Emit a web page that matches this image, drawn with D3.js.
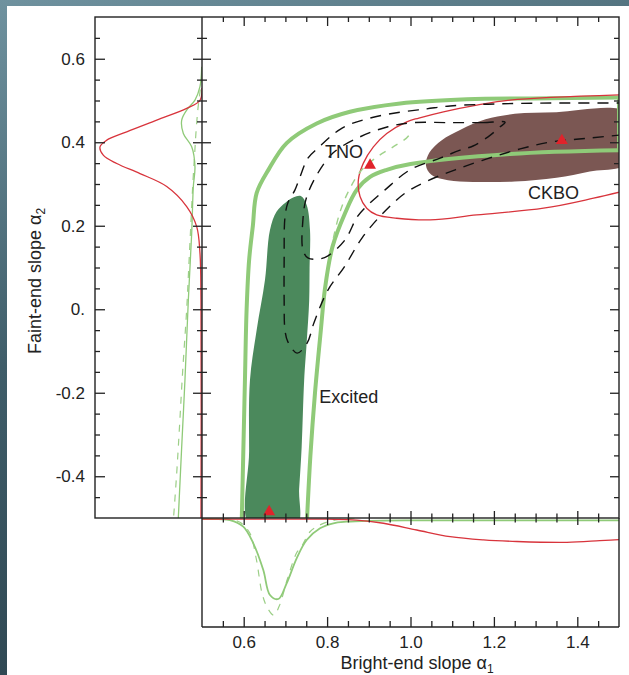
<!DOCTYPE html>
<html><head><meta charset="utf-8">
<script src="https://cdn.jsdelivr.net/npm/d3@7"></script>
<style>html,body{margin:0;padding:0;background:#fff;} svg{display:block;}</style>
</head><body>
<svg id="c" width="629" height="675"></svg>
<script>
// ---------------- DATA ----------------
const xMajor = [0.6, 0.8, 1.0, 1.2, 1.4];
const xTickLabels = ["0.6", "0.8", "1.0", "1.2", "1.4"];
const yMajor = [-0.4, -0.2, 0, 0.2, 0.4, 0.6];
const yTickLabels = ["-0.4", "-0.2", "0.", "0.2", "0.4", "0.6"];
const xMinor = [0.55,0.65,0.7,0.75,0.85,0.9,0.95,1.05,1.1,1.15,1.25,1.3,1.35,1.45];
const yMinor = [-0.45,-0.35,-0.3,-0.25,-0.15,-0.1,-0.05,0.05,0.1,0.15,0.25,0.3,0.35,0.45,0.5,0.55,0.65];

// filled 1-sigma regions [alpha1, alpha2]
const excitedRegion = [[0.615,-0.52],[0.613,-0.34],[0.615,-0.17],[0.631,-0.05],[0.651,0.07],[0.663,0.19],[0.679,0.234],[0.70,0.255],[0.72,0.268],[0.737,0.271],[0.751,0.25],[0.759,0.19],[0.758,0.1],[0.757,0.02],[0.751,-0.08],[0.745,-0.17],[0.739,-0.33],[0.733,-0.43],[0.727,-0.52]];
const ckboRegion = [[1.52,0.47],[1.35,0.472],[1.25,0.468],[1.18,0.455],[1.12,0.43],[1.075,0.405],[1.045,0.375],[1.037,0.345],[1.05,0.322],[1.09,0.309],[1.15,0.305],[1.25,0.306],[1.35,0.315],[1.43,0.33],[1.52,0.35]];

// excited 2-sigma contour (thick light green)
const excitedOuter = [[0.595,-0.52],[0.600,-0.3],[0.603,-0.169],[0.607,0.0],[0.613,0.118],[0.622,0.2],[0.631,0.278],[0.66,0.335],[0.703,0.398],[0.775,0.445],[0.855,0.473],[0.975,0.493],[1.135,0.503],[1.295,0.505],[1.5,0.507]];
const excitedInner = [[1.5,0.381],[1.239,0.372],[1.0,0.348],[0.943,0.334],[0.903,0.317],[0.871,0.286],[0.843,0.23],[0.813,0.15],[0.795,0.05],[0.785,-0.05],[0.771,-0.2],[0.76,-0.35],[0.751,-0.52]];
const excitedEdge = [[1.5,0.507],[1.5,0.381]];

// CKBO 2-sigma contour (thin red)
const ckboContour = [[1.52,0.514],[1.239,0.501],[1.159,0.489],[1.079,0.473],[1.02,0.458],[0.991,0.449],[0.943,0.421],[0.911,0.389],[0.887,0.350],[0.875,0.310],[0.879,0.270],[0.895,0.242],[0.919,0.226],[0.967,0.218],[1.047,0.214],[1.159,0.226],[1.319,0.242],[1.439,0.266],[1.52,0.285]];

// TNO contours (black dashed)
const tnoOuter = [[1.52,0.494],[1.359,0.494],[1.215,0.492],[1.095,0.487],[1.039,0.480],[0.975,0.472],[0.903,0.458],[0.836,0.434],[0.778,0.386],[0.754,0.362],[0.735,0.317],[0.723,0.286],[0.706,0.255],[0.699,0.221],[0.697,0.118],[0.697,0.022],[0.699,-0.050],[0.706,-0.078],[0.728,-0.105],[0.752,-0.081],[0.769,-0.031],[0.802,0.046],[0.841,0.101],[0.884,0.171],[0.932,0.228],[0.987,0.278],[1.040,0.307],[1.107,0.334],[1.183,0.360],[1.263,0.384],[1.339,0.401],[1.43,0.410],[1.52,0.419]];
const tnoInner = [[1.227,0.448],[1.174,0.447],[1.095,0.447],[1.006,0.447],[0.946,0.437],[0.879,0.413],[0.814,0.374],[0.771,0.314],[0.749,0.262],[0.742,0.214],[0.742,0.142],[0.754,0.123],[0.778,0.120],[0.802,0.128],[0.843,0.166],[0.872,0.221],[0.891,0.243],[0.939,0.286],[0.999,0.334],[1.071,0.362],[1.119,0.381],[1.150,0.391],[1.186,0.413],[1.215,0.437]];

// light green dashed contour
const greenDashed = [[0.815,0.17],[0.83,0.23],[0.85,0.28],[0.88,0.33],[0.92,0.365],[0.96,0.39],[0.995,0.415],[1.0,0.432]];

// best-fit markers
const bestFits = [[0.661,-0.485],[0.903,0.345],[1.363,0.404]];

// region labels
const regionLabels = [{t:"TNO", a1:0.795, a2:0.362},{t:"CKBO", a1:1.282, a2:0.264},{t:"Excited", a1:0.781, a2:-0.224}];

// marginal of alpha2 [alpha2, density]
const margA2Red = [[0.53,0],[0.50,0.02],[0.481,0.15],[0.453,0.444],[0.425,0.738],[0.405,0.934],[0.389,1.0],[0.369,0.968],[0.349,0.836],[0.325,0.608],[0.294,0.346],[0.246,0.15],[0.198,0.052],[0.135,0.02],[0.022,0.01],[-0.52,0.01]];
const margA2Green = [[0.581,0.003],[0.533,0.02],[0.501,0.069],[0.477,0.15],[0.453,0.199],[0.421,0.183],[0.389,0.101],[0.341,0.069],[0.294,0.085],[0.182,0.101],[0.022,0.134],[-0.169,0.167],[-0.329,0.199],[-0.52,0.236]];
const margA2GreenDash = [[0.56,0],[0.52,0.02],[0.48,0.04],[0.42,0.06],[0.38,0.07],[0.3,0.09],[0.2,0.11],[0.1,0.13],[0,0.15],[-0.15,0.19],[-0.3,0.225],[-0.4,0.25],[-0.52,0.285]];
// marginal of alpha1 [alpha1, density]
const margA1Red = [[0.5,0.015],[0.8,0.015],[0.871,0.025],[0.935,0.065],[1.015,0.148],[1.095,0.23],[1.175,0.27],[1.255,0.29],[1.375,0.30],[1.454,0.28],[1.52,0.26]];
const margA1Green = [[0.5,0.01],[0.54,0.015],[0.567,0.025],[0.599,0.107],[0.623,0.312],[0.647,0.642],[0.663,0.951],[0.683,1.0],[0.703,0.806],[0.727,0.498],[0.751,0.272],[0.783,0.127],[0.815,0.065],[0.847,0.046],[0.9,0.035],[1.0,0.03],[1.2,0.03],[1.52,0.03]];
const margA1GreenDash = [[0.55,0],[0.59,0.05],[0.615,0.19],[0.63,0.5],[0.645,0.95],[0.658,1.12],[0.672,1.2],[0.685,1.09],[0.705,0.75],[0.727,0.43],[0.739,0.35],[0.759,0.17],[0.775,0.107],[0.8,0.05],[0.84,0.01],[0.87,0]];

// ---------------- DRAW ----------------
const svg = d3.select("#c");
const FONT = "'Liberation Sans', Arial, Helvetica, sans-serif";
const INK = "#222";
const LG = "#8fca78", RED = "#d8343c";

// background
const defs = svg.append("defs");
const grad = defs.append("linearGradient").attr("id","bg").attr("x1",0).attr("y1",0).attr("x2",0.3).attr("y2",1);
grad.append("stop").attr("offset","0%").attr("stop-color","#6f929f");
grad.append("stop").attr("offset","50%").attr("stop-color","#3f5d69");
grad.append("stop").attr("offset","100%").attr("stop-color","#2d4550");
svg.append("rect").attr("width",629).attr("height",675).attr("fill","url(#bg)");
svg.append("rect").attr("x",7).attr("y",6).attr("width",622).attr("height",669).attr("fill","#fff");

const x = d3.scaleLinear().domain([0.5,1.5]).range([202,619]);
const y = d3.scaleLinear().domain([-0.5,0.7]).range([518,17]);
const xL = d3.scaleLinear().domain([0,1]).range([202,100]);
const yB = d3.scaleLinear().domain([0,1]).range([518,599]);

defs.append("clipPath").attr("id","cm").append("rect").attr("x",202).attr("y",17).attr("width",417).attr("height",501);
defs.append("clipPath").attr("id","cl").append("rect").attr("x",95).attr("y",17).attr("width",107).attr("height",501);
defs.append("clipPath").attr("id","cb").append("rect").attr("x",202).attr("y",518).attr("width",417).attr("height",109);

const main = svg.append("g").attr("clip-path","url(#cm)");
const pt = d => [x(d[0]), y(d[1])];
const closedLine = d3.line().x(d=>x(d[0])).y(d=>y(d[1])).curve(d3.curveCatmullRomClosed.alpha(0.5));
const openLine = d3.line().x(d=>x(d[0])).y(d=>y(d[1])).curve(d3.curveCatmullRom.alpha(0.5));
const straight = d3.line().x(d=>x(d[0])).y(d=>y(d[1]));

main.append("path").attr("d",closedLine(excitedRegion)).attr("fill","#4b895c");
main.append("path").attr("d",closedLine(ckboRegion)).attr("fill","#7b5753");

[excitedOuter, excitedInner].forEach(c => main.append("path").attr("d",openLine(c)).attr("fill","none").attr("stroke",LG).attr("stroke-width",4).attr("stroke-linejoin","round"));
main.append("path").attr("d",straight(excitedEdge)).attr("fill","none").attr("stroke",LG).attr("stroke-width",4);

main.append("path").attr("d",openLine(ckboContour)).attr("fill","none").attr("stroke",RED).attr("stroke-width",1.3);

main.append("path").attr("d",openLine(tnoOuter)).attr("fill","none").attr("stroke","#111").attr("stroke-width",1.4).attr("stroke-dasharray","11,8");
main.append("path").attr("d",closedLine(tnoInner)).attr("fill","none").attr("stroke","#111").attr("stroke-width",1.4).attr("stroke-dasharray","11,8");
main.append("path").attr("d",openLine(greenDashed)).attr("fill","none").attr("stroke","#9fd28a").attr("stroke-width",1.4).attr("stroke-dasharray","7,7");

main.selectAll("path.tri").data(bestFits).join("path").attr("class","tri")
  .attr("d", d3.symbol(d3.symbolTriangle).size(62)())
  .attr("transform", d => `translate(${x(d[0])},${y(d[1])})`)
  .attr("fill","#e0232b");

svg.selectAll("text.reg").data(regionLabels).join("text").attr("class","reg")
  .attr("x", d=>x(d.a1)).attr("y", d=>y(d.a2))
  .attr("font-family",FONT).attr("font-size",18).attr("fill",INK).text(d=>d.t);

// marginals
const left = svg.append("g").attr("clip-path","url(#cl)");
const lineL = d3.line().x(d=>xL(d[1])).y(d=>y(d[0])).curve(d3.curveCatmullRom.alpha(0.5));
left.append("path").attr("d",lineL(margA2GreenDash)).attr("fill","none").attr("stroke","#9ccf87").attr("stroke-width",1.2).attr("stroke-dasharray","7,7");
left.append("path").attr("d",lineL(margA2Green)).attr("fill","none").attr("stroke","#8fca78").attr("stroke-width",1.3);
left.append("path").attr("d",lineL(margA2Red)).attr("fill","none").attr("stroke",RED).attr("stroke-width",1.3);

const bot = svg.append("g").attr("clip-path","url(#cb)");
const lineB = d3.line().x(d=>x(d[0])).y(d=>yB(d[1])).curve(d3.curveCatmullRom.alpha(0.5));
bot.append("path").attr("d",lineB(margA1GreenDash)).attr("fill","none").attr("stroke","#9ccf87").attr("stroke-width",1.2).attr("stroke-dasharray","7,7");
bot.append("path").attr("d",lineB(margA1Green)).attr("fill","none").attr("stroke","#8fca78").attr("stroke-width",1.8);
bot.append("path").attr("d",lineB(margA1Red)).attr("fill","none").attr("stroke",RED).attr("stroke-width",1.3);

// frames
const frame = svg.append("g").attr("fill","none").attr("stroke",INK).attr("stroke-width",1.4);
frame.append("rect").attr("x",95).attr("y",17).attr("width",524).attr("height",501);
frame.append("line").attr("x1",202).attr("x2",202).attr("y1",17).attr("y2",627);
frame.append("line").attr("x1",202).attr("x2",619).attr("y1",627).attr("y2",627);
frame.append("line").attr("x1",619).attr("x2",619).attr("y1",518).attr("y2",627);

// ticks helper
function tickSet(gen, scale, values, tx, ty, a, b, horizontal) {
  const g = svg.append("g").attr("transform",`translate(${tx},${ty})`)
    .call(gen(scale).tickValues(values).tickFormat("").tickSizeOuter(0));
  g.select(".domain").remove();
  g.selectAll(".tick line").attr("stroke",INK).attr("stroke-width",1.3);
  if (horizontal) g.selectAll(".tick line").attr("y1",a).attr("y2",b);
  else g.selectAll(".tick line").attr("x1",a).attr("x2",b);
  return g;
}
// main bottom axis (crossing)
tickSet(d3.axisBottom, x, xMajor, 0, 518, -7, 7, true);
tickSet(d3.axisBottom, x, xMinor, 0, 518, -4.5, 4.5, true);
// top axis (inward)
tickSet(d3.axisTop, x, xMajor, 0, 17, 0, 9, true);
tickSet(d3.axisTop, x, xMinor, 0, 17, 0, 5, true);
// bottom panel axis (inward)
tickSet(d3.axisBottom, x, xMajor, 0, 627, 0, -10, true);
tickSet(d3.axisBottom, x, xMinor, 0, 627, 0, -6, true);
// main left axis (crossing)
tickSet(d3.axisLeft, y, yMajor, 202, 0, -9, 9, false);
tickSet(d3.axisLeft, y, yMinor, 202, 0, -5, 5, false);
// right axis (inward)
tickSet(d3.axisRight, y, yMajor, 619, 0, 0, -9, false);
tickSet(d3.axisRight, y, yMinor, 619, 0, 0, -5, false);
// left panel axis (inward)
tickSet(d3.axisLeft, y, yMajor, 95, 0, 0, 10, false);
tickSet(d3.axisLeft, y, yMinor, 95, 0, 0, 5, false);

// tick labels
const xl = svg.append("g").attr("transform","translate(0,627)")
  .call(d3.axisBottom(x).tickValues(xMajor).tickFormat((d,i)=>xTickLabels[i]).tickSize(0).tickPadding(9));
xl.select(".domain").remove();
xl.selectAll("text").attr("font-family",FONT).attr("font-size",17).attr("fill",INK);
const yl = svg.append("g").attr("transform","translate(95,0)")
  .call(d3.axisLeft(y).tickValues(yMajor).tickFormat((d,i)=>yTickLabels[i]).tickSize(0).tickPadding(10));
yl.select(".domain").remove();
yl.selectAll("text").attr("font-family",FONT).attr("font-size",17).attr("fill",INK);

// axis titles
const xt = svg.append("text").attr("x",417).attr("y",669).attr("text-anchor","middle")
  .attr("font-family",FONT).attr("font-size",18).attr("fill",INK);
xt.append("tspan").text("Bright-end slope \u03B1");
xt.append("tspan").attr("font-size",12).attr("dy",4).text("1");
const yt = svg.append("text").attr("transform","translate(41,281) rotate(-90)").attr("text-anchor","middle")
  .attr("font-family",FONT).attr("font-size",18).attr("fill",INK);
yt.append("tspan").text("Faint-end slope \u03B1");
yt.append("tspan").attr("font-size",12).attr("dy",4).text("2");
</script></body></html>
